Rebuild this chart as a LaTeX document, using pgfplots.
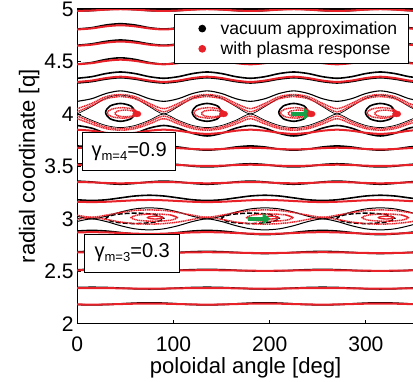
\documentclass[border=0pt]{standalone}
\usepackage{fontspec}
\setmainfont{Liberation Sans}
\usepackage{pgfplots}
\pgfplotsset{compat=1.18}
\usepackage{pgfplotstable}
\usetikzlibrary{arrows.meta}
\definecolor{pred}{RGB}{232,32,40}
\definecolor{pgreen}{RGB}{20,160,70}

\pgfplotstableread{
x B1 R1 B2 R2 B3 R3 B4 R4 B5 B5b R5 B6 B7 R6 R6b B8 R7 R7b B9 R8 B11 R11 B12 R12 B13 R13
0 4.98 4.982 4.81 4.805 4.655 4.65 4.475 4.473 4.34 4.295 4.305 4.12 4.0 4.02 4.05 4.0 3.98 3.955 3.89 3.85 3.695 3.678 3.525 3.516 3.36 3.351
15 4.985 4.986 4.822 4.815 4.668 4.66 4.49 4.484 4.355 4.308 4.318 4.145 4.07 4.08 4.10 3.94 3.925 3.905 3.865 3.84 3.685 3.674 3.518 3.513 3.352 3.348
30 4.995 4.994 4.848 4.835 4.692 4.68 4.52 4.506 4.385 4.332 4.342 4.195 4.15 4.145 4.165 3.89 3.875 3.86 3.815 3.82 3.665 3.666 3.502 3.507 3.338 3.342
45 5.0 4.998 4.86 4.845 4.705 4.69 4.535 4.517 4.40 4.345 4.355 4.22 4.18 4.165 4.185 3.87 3.86 3.845 3.79 3.81 3.655 3.662 3.495 3.504 3.33 3.339
60 4.995 4.994 4.848 4.835 4.692 4.68 4.52 4.506 4.385 4.332 4.342 4.195 4.15 4.145 4.165 3.89 3.875 3.86 3.815 3.82 3.665 3.666 3.502 3.507 3.338 3.342
75 4.985 4.986 4.822 4.815 4.668 4.66 4.49 4.484 4.355 4.308 4.318 4.145 4.07 4.08 4.10 3.94 3.925 3.905 3.865 3.84 3.685 3.674 3.518 3.513 3.352 3.348
90 4.98 4.982 4.81 4.805 4.655 4.65 4.475 4.473 4.34 4.295 4.305 4.12 4.0 4.02 4.05 4.0 3.98 3.955 3.89 3.85 3.695 3.678 3.525 3.516 3.36 3.351
105 4.985 4.986 4.822 4.815 4.668 4.66 4.49 4.484 4.355 4.308 4.318 4.145 4.07 4.08 4.10 3.94 3.925 3.905 3.865 3.84 3.685 3.674 3.518 3.513 3.352 3.348
120 4.995 4.994 4.848 4.835 4.692 4.68 4.52 4.506 4.385 4.332 4.342 4.195 4.15 4.145 4.165 3.89 3.875 3.86 3.815 3.82 3.665 3.666 3.502 3.507 3.338 3.342
135 5.0 4.998 4.86 4.845 4.705 4.69 4.535 4.517 4.40 4.345 4.355 4.22 4.18 4.165 4.185 3.87 3.86 3.845 3.79 3.81 3.655 3.662 3.495 3.504 3.33 3.339
150 4.995 4.994 4.848 4.835 4.692 4.68 4.52 4.506 4.385 4.332 4.342 4.195 4.15 4.145 4.165 3.89 3.875 3.86 3.815 3.82 3.665 3.666 3.502 3.507 3.338 3.342
165 4.985 4.986 4.822 4.815 4.668 4.66 4.49 4.484 4.355 4.308 4.318 4.145 4.07 4.08 4.10 3.94 3.925 3.905 3.865 3.84 3.685 3.674 3.518 3.513 3.352 3.348
180 4.98 4.982 4.81 4.805 4.655 4.65 4.475 4.473 4.34 4.295 4.305 4.12 4.0 4.02 4.05 4.0 3.98 3.955 3.89 3.85 3.695 3.678 3.525 3.516 3.36 3.351
195 4.985 4.986 4.822 4.815 4.668 4.66 4.49 4.484 4.355 4.308 4.318 4.145 4.07 4.08 4.10 3.94 3.925 3.905 3.865 3.84 3.685 3.674 3.518 3.513 3.352 3.348
210 4.995 4.994 4.848 4.835 4.692 4.68 4.52 4.506 4.385 4.332 4.342 4.195 4.15 4.145 4.165 3.89 3.875 3.86 3.815 3.82 3.665 3.666 3.502 3.507 3.338 3.342
225 5.0 4.998 4.86 4.845 4.705 4.69 4.535 4.517 4.40 4.345 4.355 4.22 4.18 4.165 4.185 3.87 3.86 3.845 3.79 3.81 3.655 3.662 3.495 3.504 3.33 3.339
240 4.995 4.994 4.848 4.835 4.692 4.68 4.52 4.506 4.385 4.332 4.342 4.195 4.15 4.145 4.165 3.89 3.875 3.86 3.815 3.82 3.665 3.666 3.502 3.507 3.338 3.342
255 4.985 4.986 4.822 4.815 4.668 4.66 4.49 4.484 4.355 4.308 4.318 4.145 4.07 4.08 4.10 3.94 3.925 3.905 3.865 3.84 3.685 3.674 3.518 3.513 3.352 3.348
270 4.98 4.982 4.81 4.805 4.655 4.65 4.475 4.473 4.34 4.295 4.305 4.12 4.0 4.02 4.05 4.0 3.98 3.955 3.89 3.85 3.695 3.678 3.525 3.516 3.36 3.351
285 4.985 4.986 4.822 4.815 4.668 4.66 4.49 4.484 4.355 4.308 4.318 4.145 4.07 4.08 4.10 3.94 3.925 3.905 3.865 3.84 3.685 3.674 3.518 3.513 3.352 3.348
300 4.995 4.994 4.848 4.835 4.692 4.68 4.52 4.506 4.385 4.332 4.342 4.195 4.15 4.145 4.165 3.89 3.875 3.86 3.815 3.82 3.665 3.666 3.502 3.507 3.338 3.342
315 5.0 4.998 4.86 4.845 4.705 4.69 4.535 4.517 4.40 4.345 4.355 4.22 4.18 4.165 4.185 3.87 3.86 3.845 3.79 3.81 3.655 3.662 3.495 3.504 3.33 3.339
330 4.995 4.994 4.848 4.835 4.692 4.68 4.52 4.506 4.385 4.332 4.342 4.195 4.15 4.145 4.165 3.89 3.875 3.86 3.815 3.82 3.665 3.666 3.502 3.507 3.338 3.342
345 4.985 4.986 4.822 4.815 4.668 4.66 4.49 4.484 4.355 4.308 4.318 4.145 4.07 4.08 4.10 3.94 3.925 3.905 3.865 3.84 3.685 3.674 3.518 3.513 3.352 3.348
360 4.98 4.982 4.81 4.805 4.655 4.65 4.475 4.473 4.34 4.295 4.305 4.12 4.0 4.02 4.05 4.0 3.98 3.955 3.89 3.85 3.695 3.678 3.525 3.516 3.36 3.351
}\mfour

\pgfplotstableread{
x B14 R14 B15 B16 R15 R16 B17 R17 B18 R18 B19 R19 B20 R20 B21 R21
0 3.182 3.163 3.025 2.975 3.035 2.995 2.884 2.871 2.687 2.681 2.516 2.51 2.346 2.34 2.183 2.1845
15 3.175 3.16 3.0 3.0 3.015 3.015 2.89 2.873 2.69 2.682 2.518 2.511 2.348 2.341 2.18 2.183
30 3.182 3.163 3.025 2.975 3.035 2.995 2.884 2.871 2.687 2.681 2.516 2.51 2.346 2.34 2.183 2.1845
45 3.20 3.17 3.065 2.935 3.06 2.97 2.87 2.865 2.68 2.678 2.51 2.508 2.34 2.338 2.19 2.188
60 3.218 3.177 3.095 2.905 3.08 2.955 2.856 2.859 2.673 2.675 2.504 2.506 2.334 2.336 2.197 2.1915
75 3.225 3.18 3.105 2.895 3.085 2.95 2.85 2.857 2.67 2.674 2.502 2.505 2.332 2.335 2.2 2.193
90 3.218 3.177 3.095 2.905 3.08 2.955 2.856 2.859 2.673 2.675 2.504 2.506 2.334 2.336 2.197 2.1915
105 3.20 3.17 3.065 2.935 3.06 2.97 2.87 2.865 2.68 2.678 2.51 2.508 2.34 2.338 2.19 2.188
120 3.182 3.163 3.025 2.975 3.035 2.995 2.884 2.871 2.687 2.681 2.516 2.51 2.346 2.34 2.183 2.1845
135 3.175 3.16 3.0 3.0 3.015 3.015 2.89 2.873 2.69 2.682 2.518 2.511 2.348 2.341 2.18 2.183
150 3.182 3.163 3.025 2.975 3.035 2.995 2.884 2.871 2.687 2.681 2.516 2.51 2.346 2.34 2.183 2.1845
165 3.20 3.17 3.065 2.935 3.06 2.97 2.87 2.865 2.68 2.678 2.51 2.508 2.34 2.338 2.19 2.188
180 3.218 3.177 3.095 2.905 3.08 2.955 2.856 2.859 2.673 2.675 2.504 2.506 2.334 2.336 2.197 2.1915
195 3.225 3.18 3.105 2.895 3.085 2.95 2.85 2.857 2.67 2.674 2.502 2.505 2.332 2.335 2.2 2.193
210 3.218 3.177 3.095 2.905 3.08 2.955 2.856 2.859 2.673 2.675 2.504 2.506 2.334 2.336 2.197 2.1915
225 3.20 3.17 3.065 2.935 3.06 2.97 2.87 2.865 2.68 2.678 2.51 2.508 2.34 2.338 2.19 2.188
240 3.182 3.163 3.025 2.975 3.035 2.995 2.884 2.871 2.687 2.681 2.516 2.51 2.346 2.34 2.183 2.1845
255 3.175 3.16 3.0 3.0 3.015 3.015 2.89 2.873 2.69 2.682 2.518 2.511 2.348 2.341 2.18 2.183
270 3.182 3.163 3.025 2.975 3.035 2.995 2.884 2.871 2.687 2.681 2.516 2.51 2.346 2.34 2.183 2.1845
285 3.20 3.17 3.065 2.935 3.06 2.97 2.87 2.865 2.68 2.678 2.51 2.508 2.34 2.338 2.19 2.188
300 3.218 3.177 3.095 2.905 3.08 2.955 2.856 2.859 2.673 2.675 2.504 2.506 2.334 2.336 2.197 2.1915
315 3.225 3.18 3.105 2.895 3.085 2.95 2.85 2.857 2.67 2.674 2.502 2.505 2.332 2.335 2.2 2.193
330 3.218 3.177 3.095 2.905 3.08 2.955 2.856 2.859 2.673 2.675 2.504 2.506 2.334 2.336 2.197 2.1915
345 3.20 3.17 3.065 2.935 3.06 2.97 2.87 2.865 2.68 2.678 2.51 2.508 2.34 2.338 2.19 2.188
360 3.182 3.163 3.025 2.975 3.035 2.995 2.884 2.871 2.687 2.681 2.516 2.51 2.346 2.34 2.183 2.1845
}\mthree

\pgfplotsset{
  bl/.style={black, line width=1.6pt, smooth},
  blt/.style={black, line width=0.7pt, smooth},
  rd/.style={pred, line width=2.0pt, smooth},
  rdd/.style={pred, line width=1.5pt, smooth, dash pattern=on 1.2pt off 0.6pt},
  bld/.style={black, line width=1.5pt, smooth, dash pattern=on 5pt off 2pt},
}

\begin{document}
\begin{tikzpicture}
\begin{axis}[
  scale only axis, width=336pt, height=314pt,
  xmin=0, xmax=350, ymin=2, ymax=5,
  xtick={0,100,200,300}, ytick={2,2.5,3,3.5,4,4.5,5},
  tick align=inside, tick pos=left, major tick length=4pt,
  axis line style={line width=1.2pt},
  every tick/.style={black, line width=0.8pt},
  /pgf/number format/assume math mode=true,
  ticklabel style={font=\fontsize{21}{24}\selectfont},
  xticklabel style={yshift=-9pt},
  xlabel={poloidal angle [deg]}, ylabel={radial coordinate [q]},
  label style={font=\fontsize{22}{26}\selectfont},
  xlabel style={yshift=0.5pt},
  ylabel style={yshift=-2pt},
  legend style={at={(axis cs:101,4.952)}, anchor=north west,
    font=\fontsize{17.5}{20}\selectfont, draw=black, line width=0.8pt,
    inner xsep=24pt, inner ysep=5pt, row sep=2pt,
    nodes={inner xsep=3pt, inner ysep=2pt},
    /tikz/every odd column/.append style={column sep=12pt}},
  legend cell align=left,
]
\addlegendimage{only marks, mark=*, mark size=3.4pt, black}
\addlegendentry{vacuum approximation\hspace*{-16pt}}
\addlegendimage{only marks, mark=*, mark size=3.4pt, pred}
\addlegendentry{with plasma response\hspace*{-16pt}}

% ---- black (vacuum) surfaces, m=4 region
\addplot[bl] table[x=x,y=B1]{\mfour};
\addplot[bl] table[x=x,y=B2]{\mfour};
\addplot[bl] table[x=x,y=B3]{\mfour};
\addplot[bl] table[x=x,y=B4]{\mfour};
\addplot[bl] table[x=x,y=B5]{\mfour};
\addplot[bl] table[x=x,y=B5b]{\mfour};
\addplot[black, line width=1.1pt, smooth] table[x=x,y=B6]{\mfour};
\addplot[blt] table[x=x,y=B7]{\mfour};
\addplot[blt] table[x=x,y=B8]{\mfour};
\addplot[bl] table[x=x,y=B9]{\mfour};
\addplot[bl] table[x=x,y=B11]{\mfour};
\addplot[bl] table[x=x,y=B12]{\mfour};
\addplot[bl] table[x=x,y=B13]{\mfour};
% black island circles m=4
\addplot[bl] coordinates {(60.5,4.015)(56,4.075)(45,4.10)(34,4.075)(29.5,4.015)(34,3.955)(45,3.93)(56,3.955)(60.5,4.015)(56,4.075)};
\addplot[bl] coordinates {(150.5,4.015)(146,4.075)(135,4.10)(124,4.075)(119.5,4.015)(124,3.955)(135,3.93)(146,3.955)(150.5,4.015)(146,4.075)};
\addplot[bl] coordinates {(240.5,4.015)(236,4.075)(225,4.10)(214,4.075)(209.5,4.015)(214,3.955)(225,3.93)(236,3.955)(240.5,4.015)(236,4.075)};
\addplot[bl] coordinates {(330.5,4.015)(326,4.075)(315,4.10)(304,4.075)(299.5,4.015)(304,3.955)(315,3.93)(326,3.955)(330.5,4.015)(326,4.075)};

% ---- black surfaces, m=3 region
\addplot[bl] table[x=x,y=B14]{\mthree};
\addplot[blt, line width=1pt] table[x=x,y=B15]{\mthree};
\addplot[blt, line width=1pt] table[x=x,y=B16]{\mthree};
\addplot[bl] table[x=x,y=B17]{\mthree};
\addplot[bl] table[x=x,y=B18]{\mthree};
\addplot[bl] table[x=x,y=B19]{\mthree};
\addplot[bl] table[x=x,y=B20]{\mthree};
\addplot[bl] table[x=x,y=B21]{\mthree};
% black dashed island ellipses m=3
\addplot[bld] coordinates {(90,3.005)(81.2,3.04)(60,3.055)(38.8,3.04)(30,3.005)(38.8,2.97)(60,2.955)(81.2,2.97)(90,3.005)(81.2,3.04)};
\addplot[bld] coordinates {(210,3.005)(201.2,3.04)(180,3.055)(158.8,3.04)(150,3.005)(158.8,2.97)(180,2.955)(201.2,2.97)(210,3.005)(201.2,3.04)};
\addplot[bld] coordinates {(330,3.005)(321.2,3.04)(300,3.055)(278.8,3.04)(270,3.005)(278.8,2.97)(300,2.955)(321.2,2.97)(330,3.005)(321.2,3.04)};

% ---- red (plasma response) surfaces, m=4 region
\addplot[rd] table[x=x,y=R1]{\mfour};
\addplot[rd] table[x=x,y=R2]{\mfour};
\addplot[rd] table[x=x,y=R3]{\mfour};
\addplot[rd] table[x=x,y=R4]{\mfour};
\addplot[rd] table[x=x,y=R5]{\mfour};
\addplot[rdd] table[x=x,y=R6]{\mfour};
\addplot[rdd] table[x=x,y=R6b]{\mfour};
\addplot[rdd] table[x=x,y=R7]{\mfour};
\addplot[rdd] table[x=x,y=R7b]{\mfour};
\addplot[rd] table[x=x,y=R8]{\mfour};
\addplot[rd] table[x=x,y=R11]{\mfour};
\addplot[rd] table[x=x,y=R12]{\mfour};
\addplot[rd] table[x=x,y=R13]{\mfour};
% red island loops m=4
\addplot[rdd] coordinates {(63,4.01)(58.3,4.045)(47,4.06)(35.7,4.045)(31,4.01)(35.7,3.975)(47,3.96)(58.3,3.975)(63,4.01)(58.3,4.045)};
\addplot[rdd] coordinates {(153,4.01)(148.3,4.045)(137,4.06)(125.7,4.045)(121,4.01)(125.7,3.975)(137,3.96)(148.3,3.975)(153,4.01)(148.3,4.045)};
\addplot[rdd] coordinates {(243,4.01)(238.3,4.045)(227,4.06)(215.7,4.045)(211,4.01)(215.7,3.975)(227,3.96)(238.3,3.975)(243,4.01)(238.3,4.045)};
\addplot[rdd] coordinates {(333,4.01)(328.3,4.045)(317,4.06)(305.7,4.045)(301,4.01)(305.7,3.975)(317,3.96)(328.3,3.975)(333,4.01)(328.3,4.045)};
\addplot[rdd] coordinates {(61,4.005)(57.8,4.028)(50,4.037)(42.2,4.028)(39,4.005)(42.2,3.982)(50,3.973)(57.8,3.982)(61,4.005)(57.8,4.028)};
\addplot[rdd] coordinates {(151,4.005)(147.8,4.028)(140,4.037)(132.2,4.028)(129,4.005)(132.2,3.982)(140,3.973)(147.8,3.982)(151,4.005)(147.8,4.028)};
\addplot[rdd] coordinates {(241,4.005)(237.8,4.028)(230,4.037)(222.2,4.028)(219,4.005)(222.2,3.982)(230,3.973)(237.8,3.982)(241,4.005)(237.8,4.028)};
\addplot[rdd] coordinates {(331,4.005)(327.8,4.028)(320,4.037)(312.2,4.028)(309,4.005)(312.2,3.982)(320,3.973)(327.8,3.982)(331,4.005)(327.8,4.028)};
\addplot[only marks, mark=*, mark size=3pt, pred, mark options={xscale=1.4}] coordinates {(62,4.0)(152,4.0)(243,4.0)(332,4.0)};

% ---- red surfaces, m=3 region
\addplot[rd] table[x=x,y=R14]{\mthree};
\addplot[rdd] table[x=x,y=R15]{\mthree};
\addplot[rdd] table[x=x,y=R16]{\mthree};
\addplot[rd] table[x=x,y=R17]{\mthree};
\addplot[rd] table[x=x,y=R18]{\mthree};
\addplot[rd] table[x=x,y=R19]{\mthree};
\addplot[rd] table[x=x,y=R20]{\mthree};
\addplot[rd] table[x=x,y=R21]{\mthree};
% red island loops m=3
\addplot[rdd] coordinates {(104,3.012)(97,3.037)(80,3.047)(63,3.037)(56,3.012)(63,2.987)(80,2.977)(97,2.987)(104,3.012)(97,3.037)};
\addplot[rdd] coordinates {(224,3.012)(217,3.037)(200,3.047)(183,3.037)(176,3.012)(183,2.987)(200,2.977)(217,2.987)(224,3.012)(217,3.037)};
\addplot[rdd] coordinates {(344,3.012)(337,3.037)(320,3.047)(303,3.037)(296,3.012)(303,2.987)(320,2.977)(337,2.987)(344,3.012)(337,3.037)};
\addplot[rd, line width=1.3pt] coordinates {(89,3.012)(86.7,3.021)(81,3.025)(75.3,3.021)(73,3.012)(75.3,3.003)(81,2.999)(86.7,3.003)(89,3.012)(86.7,3.021)};
\addplot[rd, line width=1.3pt] coordinates {(209,3.012)(206.7,3.021)(201,3.025)(195.3,3.021)(193,3.012)(195.3,3.003)(201,2.999)(206.7,3.003)(209,3.012)(206.7,3.021)};
\addplot[rd, line width=1.3pt] coordinates {(329,3.012)(326.7,3.021)(321,3.025)(315.3,3.021)(313,3.012)(315.3,3.003)(321,2.999)(326.7,3.003)(329,3.012)(326.7,3.021)};

% ---- green arrows
\addplot[pgreen, line width=3.5pt, -{Triangle[length=8pt,width=11pt]}] coordinates {(222,4.0)(244,4.0)};
\addplot[pgreen, line width=3.5pt, -{Triangle[length=8pt,width=11pt]}] coordinates {(177,3.0)(201,3.0)};

% ---- gamma labels
\node[draw=black, fill=white, line width=0.8pt, anchor=north west, minimum width=93pt, minimum height=38pt, inner sep=2pt, font=\fontsize{20}{22}\selectfont]
  at (axis cs:5.2,3.825) {γ\raisebox{-0.35ex}{\fontsize{13}{14}\selectfont m=4}=0.9};
\node[draw=black, fill=white, line width=0.8pt, anchor=north west, minimum width=95pt, minimum height=38pt, inner sep=2pt, font=\fontsize{20}{22}\selectfont]
  at (axis cs:7.3,2.86) {γ\raisebox{-0.35ex}{\fontsize{13}{14}\selectfont m=3}=0.3};
\end{axis}
\pgfresetboundingbox
\path[use as bounding box] ([shift={(-77pt,-58pt)}]current axis.south west) rectangle ([shift={(-1pt,9pt)}]current axis.north east);
\end{tikzpicture}
\end{document}
